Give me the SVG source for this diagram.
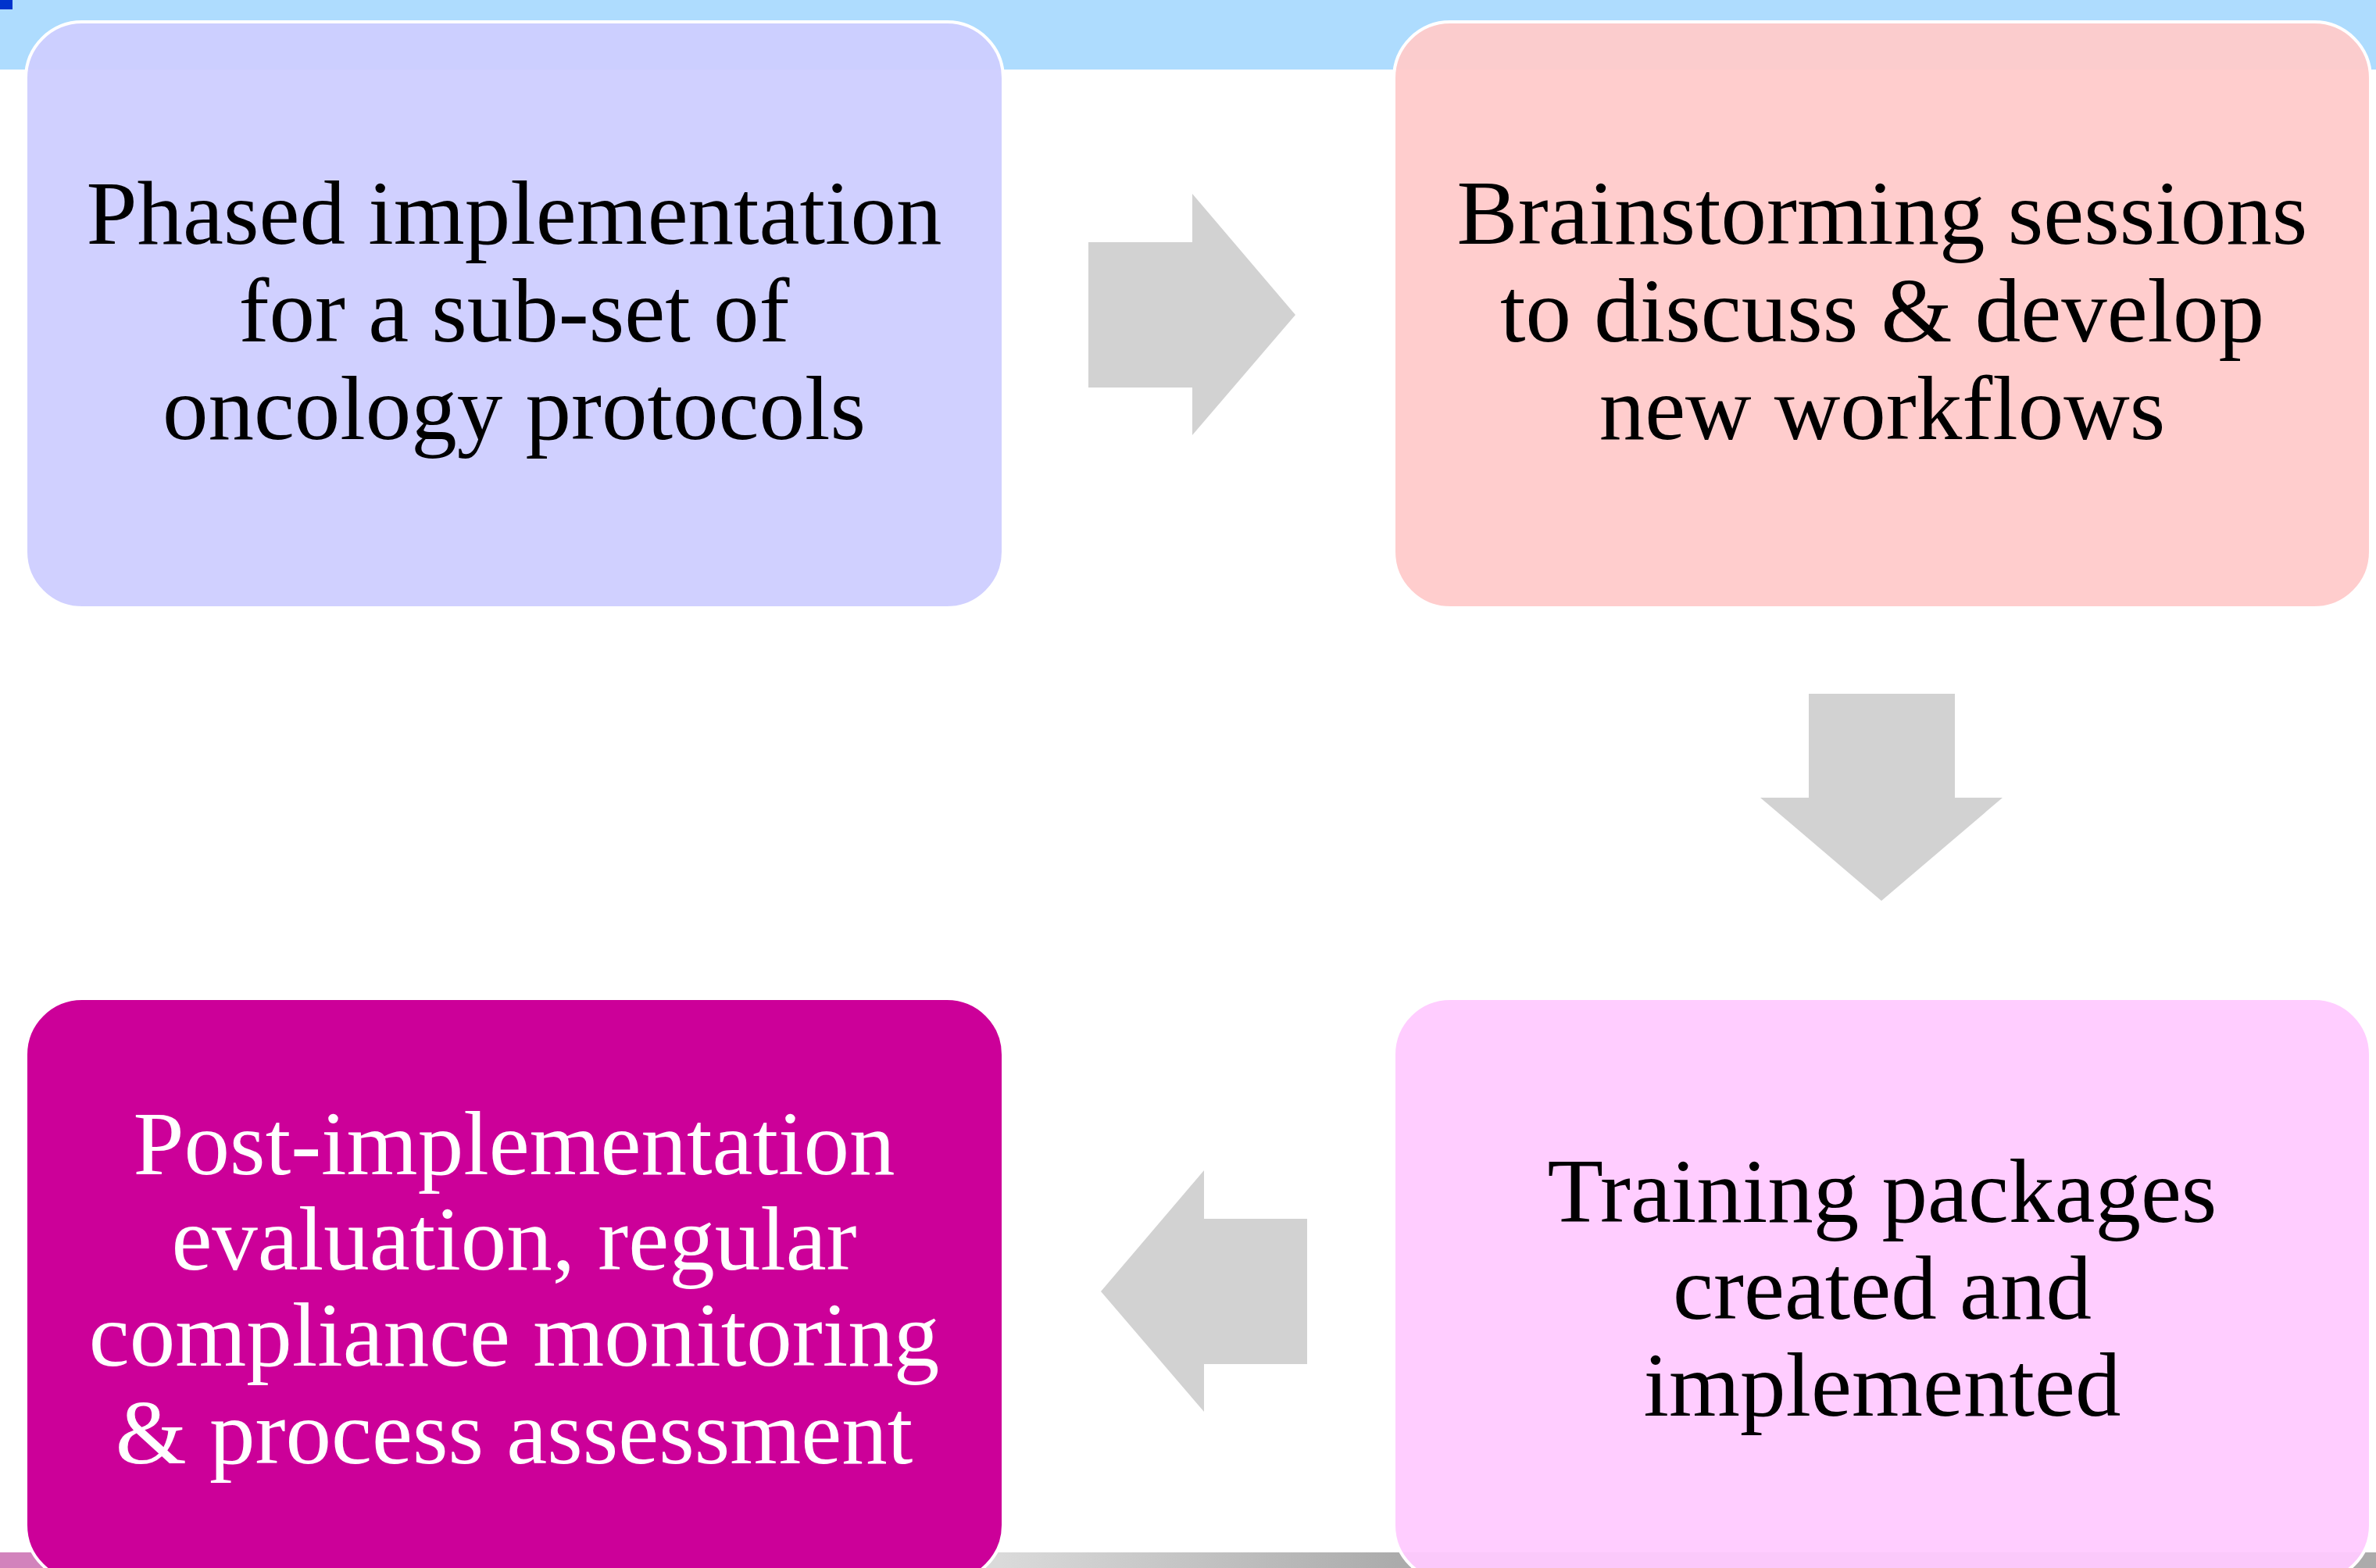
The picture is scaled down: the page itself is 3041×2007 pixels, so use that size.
<svg xmlns="http://www.w3.org/2000/svg" width="3041" height="2007" viewBox="0 0 3041 2007">
<style>
.node{stroke:#FFFFFF;stroke-width:4;fill-opacity:0.95}
.solid{fill-opacity:1}
.lbl{font-family:"Liberation Serif","Times New Roman",serif;font-size:117px;text-anchor:middle}
.arrow{fill:#D2D2D2}
</style>
<defs>
<linearGradient id="gband" gradientUnits="userSpaceOnUse" x1="1280" y1="0" x2="1790" y2="0">
<stop offset="0" stop-color="#DADADA"/>
<stop offset="1" stop-color="#ABABAB"/>
</linearGradient>
</defs>
<rect x="0" y="0" width="3041" height="2007" fill="#FFFFFF"/>
<rect x="0" y="0" width="3041" height="89" fill="#AEDCFE"/>
<rect x="0" y="0" width="16" height="12" fill="#0033CC"/>
<rect x="0" y="1987" width="1200" height="20" fill="#D283BC"/>
<rect x="1200" y="1987" width="1841" height="20" fill="url(#gband)"/>
<g id="connectors">
<polygon class="arrow" points="1393,310 1526,310 1526,248 1658,403 1526,557 1526,496 1393,496"/>
<polygon class="arrow" points="2315,888 2502,888 2502,1021 2563,1021 2408,1153 2253,1021 2315,1021"/>
<polygon class="arrow" points="1673,1560 1541,1560 1541,1498 1409,1653 1541,1807 1541,1746 1673,1746"/>
</g>
<g id="node1">
<rect class="node" x="33" y="28" width="1251" height="750" rx="72" ry="72" fill="#CECEFF"/>
<text class="lbl" fill="#000000"><tspan x="658" y="312">Phased implementation</tspan><tspan x="658" y="437">for a sub-set of</tspan><tspan x="658" y="562">oncology protocols</tspan></text>
</g>
<g id="node2">
<rect class="node" x="1784" y="28" width="1250" height="750" rx="72" ry="72" fill="#FFCACA"/>
<text class="lbl" fill="#000000"><tspan x="2409" y="312">Brainstorming sessions</tspan><tspan x="2409" y="437">to discuss &amp; develop</tspan><tspan x="2409" y="562">new workflows</tspan></text>
</g>
<g id="node3">
<rect class="node solid" x="33" y="1278" width="1251" height="746" rx="72" ry="72" fill="#CC0099"/>
<text class="lbl" fill="#FFFFFF"><tspan x="658" y="1503">Post-implementation</tspan><tspan x="658" y="1625">evaluation, regular</tspan><tspan x="658" y="1748">compliance monitoring</tspan><tspan x="658" y="1873">&amp; process assessment</tspan></text>
</g>
<g id="node4">
<rect class="node" x="1784" y="1278" width="1250" height="746" rx="72" ry="72" fill="#FFCAFF"/>
<text class="lbl" fill="#000000"><tspan x="2409" y="1564">Training packages</tspan><tspan x="2409" y="1688">created and</tspan><tspan x="2409" y="1812">implemented</tspan></text>
</g>
</svg>
